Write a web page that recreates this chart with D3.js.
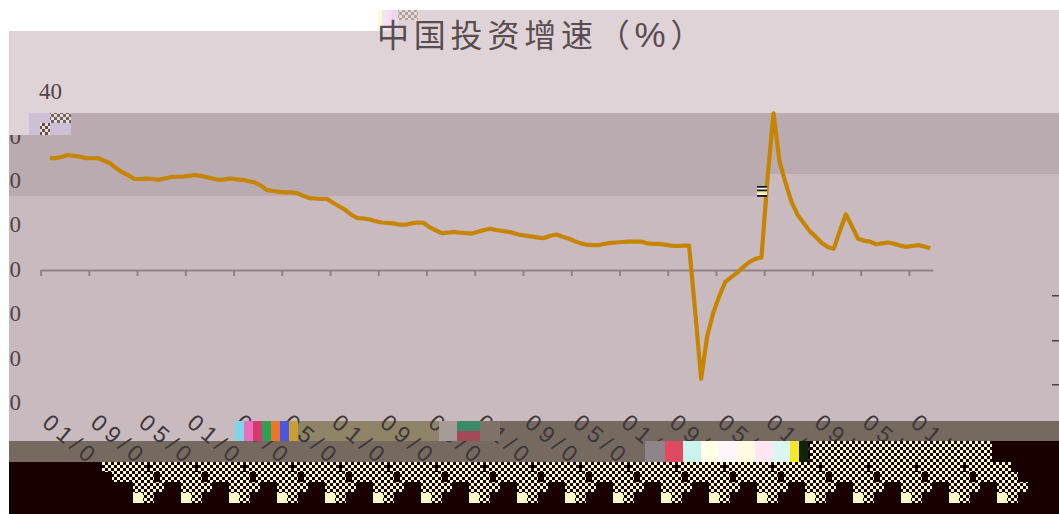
<!DOCTYPE html>
<html>
<head>
<meta charset="utf-8">
<script src="https://cdn.jsdelivr.net/npm/d3@7"></script>
<style>
  html, body { margin: 0; padding: 0; background: #fff; overflow: hidden; }
  svg { display: block; }
</style>
</head>
<body>
<svg width="1059" height="514"></svg>
<script>
var svg = d3.select("svg");

var titleText = "中国投资增速（";
var titleUnit = "%";
var titleEnd = "）";
var yTicks = [40, 30, 20, 10, 0, -10, -20, -30];

//tick labels repeat every 8 months, only the part before the damage can be read
var xTickLabels = ["01/0", "09/0", "05/0", "01/0", "09/0", "05/0", "01/0", "09/0", "05/0", "01/0",
  "09/0", "05/0", "01/0", "09/0", "05/0", "01/0", "09/0", "05/0", "01/0"];

var investGrowth = [25.2, 25.2, 25.5, 25.9, 25.7, 25.5, 25.2, 25.2, 25.2, 24.6,
  24.0, 22.9, 22.0, 21.3, 20.5, 20.5, 20.6, 20.5, 20.3, 20.6,
  20.9, 21.0, 21.0, 21.2, 21.4, 21.2, 20.9, 20.6, 20.3, 20.4,
  20.6, 20.4, 20.3, 20.0, 19.7, 19.0, 18.0, 17.8, 17.6, 17.5,
  17.5, 17.3, 16.7, 16.2, 16.1, 16.0, 16.0, 15.1, 14.3, 13.5,
  12.4, 11.7, 11.6, 11.4, 11.0, 10.7, 10.6, 10.5, 10.2, 10.2,
  10.5, 10.7, 10.6, 9.6, 8.9, 8.3, 8.4, 8.6, 8.4, 8.3,
  8.2, 8.6, 9.0, 9.3, 9.0, 8.8, 8.6, 8.3, 7.9, 7.7,
  7.5, 7.3, 7.2, 7.7, 8.0, 7.5, 7.1, 6.5, 6.0, 5.7,
  5.6, 5.6, 5.9, 6.1, 6.2, 6.3, 6.4, 6.4, 6.4, 6.0,
  5.9, 5.9, 5.7, 5.5, 5.4, 5.5, 5.5, -9.2, -24.5, -14.9,
  -9.7, -5.9, -2.7, -1.6, -0.6, 0.7, 1.8, 2.5, 2.8, 20.5,
  35.3, 24.4, 19.6, 15.3, 12.4, 10.6, 8.8, 7.5, 6.1, 5.2,
  4.8, 8.8, 12.5, 9.9, 7.1, 6.6, 6.4, 5.8, 6.0, 6.2,
  5.9, 5.5, 5.2, 5.4, 5.6, 5.3, 4.9];

//the axis has 148 month slots, the line sits a little right of the slot edge
var lineOffset = 1.55;

var x = d3.scaleLinear().domain([0, 148]).range([40.6, 933]);
var y = d3.scaleLinear().domain([-30, 40]).range([403.2, 92.4]);

var pink = "#e0d3d7", dark = "#b9abaf", mid = "#c9babf",
  olive = "#8f8468", brown = "#766a60", black = "#180000", cream = "#fffbc8";

function block(parent, bx, by, bw, bh, fill) {
  return parent.append("rect")
    .attr("x", bx).attr("y", by)
    .attr("width", bw).attr("height", bh)
    .attr("fill", fill);
}

//checker pattern for the broken blocks below the axis
var pattern = svg.append("defs").append("pattern")
  .attr("id", "checker")
  .attr("width", 6).attr("height", 6)
  .attr("patternUnits", "userSpaceOnUse");
pattern.append("rect").attr("width", 6).attr("height", 6).attr("fill", black);
pattern.append("rect").attr("width", 3).attr("height", 3).attr("fill", cream);
pattern.append("rect").attr("x", 3).attr("y", 3).attr("width", 3).attr("height", 3).attr("fill", cream);

//background bands
var bg = svg.append("g");
block(bg, 378, 10, 681, 21, pink);
block(bg, 9, 31, 1050, 82, pink);
block(bg, 9, 113, 1050, 61, dark);
block(bg, 9, 174, 759, 22, dark);
block(bg, 768, 174, 291, 22, mid);
block(bg, 9, 196, 1050, 225, mid);
block(bg, 9, 421, 286, 20, mid);
block(bg, 295, 421, 144, 20, olive);
block(bg, 439, 421, 620, 20, brown);
block(bg, 9, 441, 636, 21, brown);
block(bg, 645, 441, 414, 21, black);

//title corner, under the title text
block(bg, 378, 10, 4, 21, "#fffbd8");
block(bg, 382, 10, 6, 21, "#efe4f6");
block(bg, 388, 10, 4, 21, "#fbd9f0");
block(bg, 392, 10, 6, 21, "#e9d9e6");
block(bg, 398, 10, 20, 10, "url(#checker)").attr("opacity", 0.25);

//title
var title = svg.append("text")
  .attr("x", 377)
  .attr("y", 47)
  .attr("fill", "#574d51")
  .style("font-family", "'Noto Sans CJK SC'")
  .style("font-size", "32px")
  .style("letter-spacing", "4.8px")
  .text(titleText);
title.append("tspan")
  .style("font-family", "'Liberation Sans'")
  .style("font-size", "35px")
  .text(titleUnit);
title.append("tspan").text(titleEnd);

//y axis, no line, labels only
var yAxis = svg.append("g")
  .attr("class", "y-axis")
  .attr("transform", "translate(21,0)")
  .call(d3.axisLeft(y).tickValues(yTicks).tickSize(0).tickPadding(0));
yAxis.select(".domain").remove();
yAxis.selectAll("text")
  .attr("fill", "#4d4347")
  .attr("y", -1)
  .style("font-family", "'Liberation Serif'")
  .style("font-size", "23px");
//the 40 label is shifted right in the picture
yAxis.selectAll(".tick").filter(function(d) { return d === 40; })
  .select("text").attr("x", 41);

//x axis on the zero line
var xAxis = svg.append("g")
  .attr("class", "x-axis")
  .attr("transform", "translate(0," + y(0) + ")")
  .call(d3.axisBottom(x)
    .tickValues(d3.range(0, 148, 8))
    .tickSize(6)
    .tickSizeOuter(0)
    .tickFormat(function(d, i) { return xTickLabels[i]; }));
xAxis.select(".domain").attr("stroke", "#8f8388").attr("stroke-width", 2);
xAxis.selectAll("line").attr("stroke", "#8f8388").attr("stroke-width", 2);
xAxis.selectAll("text")
  .attr("fill", "#3e3538")
  .attr("text-anchor", "start")
  .attr("dy", 0)
  .attr("transform", "translate(0," + (434 - y(0) - 9) + ") rotate(40)")
  .attr("y", 0)
  .attr("x", 0)
  .style("font-family", "'Liberation Sans'")
  .style("font-size", "23px")
  .style("letter-spacing", "5px");

//investment growth line
var line = d3.line()
  .x(function(d, i) { return x(i + lineOffset); })
  .y(function(d) { return y(d); });

svg.append("path")
  .datum(investGrowth)
  .attr("fill", "none")
  .attr("stroke", "#c68500")
  .attr("stroke-width", 4.2)
  .attr("stroke-linejoin", "round")
  .attr("d", line);

//damaged parts of the picture go on top
var over = svg.append("g");
block(over, 0, 0, 9, 514, "#fff");
block(over, 9, 113, 20, 22, pink);
block(over, 29, 113, 42, 22, "#cdc0d6");
block(over, 50, 113, 21, 10, "url(#checker)").attr("opacity", 0.5);
block(over, 40, 123, 10, 12, "url(#checker)").attr("opacity", 0.6);

//small stripes next to the spike
["#111", "#fff", "#111", "#ffe66e", "#fff", "#111"].forEach(function(c, i) {
  block(over, 757, 186 + i * 1.8, 10, 1.8, c);
});

//bits of the negative labels that wrapped to the right edge
[295, 340, 384].forEach(function(py) {
  block(over, 1052, py, 7, 1.5, "#4d4347");
});

//rainbow piece and grey piece in the label row
["#7fd6e8", "#e86fc0", "#d63a6a", "#2fa05a", "#e8772a", "#4a55e0", "#c9a030"].forEach(function(c, i) {
  block(over, 235 + i * 9, 421, 9, 20, c);
});
block(over, 439, 421, 18, 20, "#a79b98");
block(over, 457, 421, 23, 10, "#3d8a6a");
block(over, 457, 431, 23, 10, "#a34a58");
block(over, 480, 421, 20, 20, "#7f7269");

//bright piece in the second label row
block(over, 645, 441, 20, 21, "#8f8488");
["#e04a60", "#c9f3ec", "#ffffe8", "#fff6fb", "#fffbe0", "#ffe6f0", "#d9f6f0"].forEach(function(c, i) {
  block(over, 665 + i * 18, 441, 18, 21, c);
});
block(over, 790, 441, 9, 21, "#f5e72a");
block(over, 799, 441, 9, 21, "#10240a");

//bottom strip with the checker stamps, one per x tick
block(over, 9, 462, 1050, 52, black);
var stampRows = [
  {dx: 60, w: 45, py: 462, h: 10},
  {dx: 70, w: 42, py: 472, h: 10},
  {dx: 91, w: 31, py: 482, h: 10},
  {dx: 91, w: 21, py: 492, h: 11}
];
var stamps = over.selectAll("g.stamp")
  .data(d3.range(0, 148, 8))
  .enter().append("g")
  .attr("class", "stamp")
  .attr("transform", function(d) { return "translate(" + (Math.round(x(d) / 6) * 6) + ",0)"; });
stampRows.forEach(function(r) {
  stamps.append("rect")
    .attr("x", r.dx).attr("y", r.py)
    .attr("width", r.w).attr("height", r.h)
    .attr("fill", "url(#checker)");
});
stamps.append("rect")
  .attr("x", 91).attr("y", 493)
  .attr("width", 10).attr("height", 10)
  .attr("fill", cream);

//the last ticks also break into the second label row
block(over, 810, 441, 182, 21, "url(#checker)");
</script>
</body>
</html>
